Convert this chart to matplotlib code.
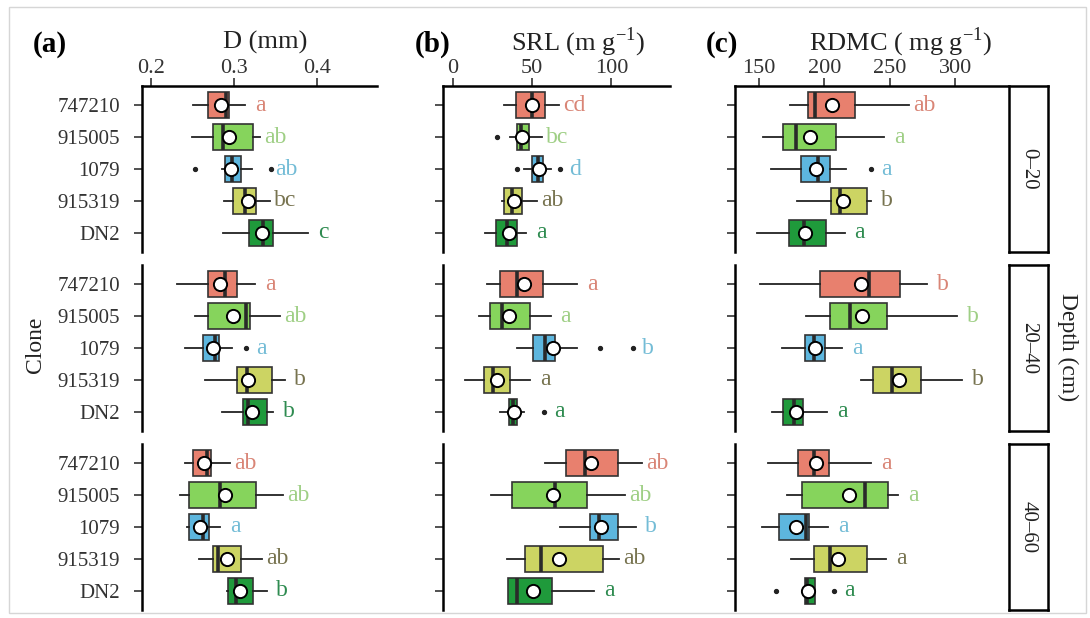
import numpy as np
import matplotlib.pyplot as plt
from matplotlib.patches import Rectangle

plt.rcParams['font.family'] = ['Liberation Serif', 'DejaVu Serif']

clones = ['747210', '915005', '1079', '915319', 'DN2']
depths = ['0\u201320', '20\u201340', '40\u201360']

box_fill = ['#E8806E', '#86D45C', '#5DB6DE', '#CCD463', '#1F9A3B']
letter_col = ['#D98576', '#9FCF85', '#73BCD6', '#77734F', '#2E8B50']

# ---- D (mm) ----
D_lo = [[0.251, 0.249, 0.285, 0.288, 0.287],
        [0.231, 0.253, 0.241, 0.265, 0.285],
        [0.241, 0.235, 0.243, 0.258, 0.291]]
D_q1 = [[0.269, 0.274, 0.289, 0.298, 0.318],
        [0.269, 0.268, 0.263, 0.304, 0.311],
        [0.250, 0.246, 0.245, 0.275, 0.292]]
D_med = [[0.290, 0.287, 0.297, 0.313, 0.335],
         [0.289, 0.314, 0.277, 0.316, 0.317],
         [0.267, 0.283, 0.262, 0.281, 0.302]]
D_q3 = [[0.294, 0.323, 0.308, 0.326, 0.347],
        [0.304, 0.319, 0.282, 0.345, 0.339],
        [0.272, 0.326, 0.270, 0.308, 0.323]]
D_hi = [[0.313, 0.331, 0.321, 0.343, 0.389],
        [0.325, 0.355, 0.297, 0.361, 0.347],
        [0.295, 0.359, 0.283, 0.333, 0.339]]
D_mean = [[0.284, 0.294, 0.296, 0.317, 0.333],
          [0.283, 0.298, 0.275, 0.317, 0.322],
          [0.264, 0.289, 0.259, 0.291, 0.307]]
D_out = [[[], [], [0.253, 0.344], [], []],
         [[], [], [0.314], [], []],
         [[], [], [], [], []]]
D_let = [['a', 'ab', 'ab', 'bc', 'c'],
         ['a', 'ab', 'a', 'b', 'b'],
         ['ab', 'ab', 'a', 'ab', 'b']]

# ---- SRL (m g-1) ----
S_lo = [[32.5, 36.3, 45.1, 31.0, 20.4],
        [21.5, 16.6, 40.5, 7.8, 29.9],
        [57.8, 24.2, 67.5, 34.2, 34.8]]
S_q1 = [[40.0, 40.5, 50.0, 32.5, 27.4],
        [29.9, 23.6, 50.6, 19.8, 35.2],
        [71.1, 37.3, 86.5, 45.3, 35.0]]
S_med = [[50.0, 43.0, 53.5, 37.3, 34.0],
         [40.5, 31.0, 58.4, 25.3, 38.0],
         [83.1, 64.3, 92.2, 55.7, 40.5]]
S_q3 = [[58.4, 47.8, 57.0, 43.7, 40.5],
        [57.0, 48.5, 64.3, 36.3, 40.5],
        [104.2, 84.4, 104.2, 94.9, 62.7]]
S_hi = [[66.8, 56.3, 61.6, 53.2, 46.4],
        [78.5, 61.6, 78.5, 48.9, 44.7],
        [119.6, 108.6, 115.4, 104.8, 89.0]]
S_mean = [[50.0, 43.7, 54.2, 38.4, 35.2],
          [44.7, 35.2, 63.3, 27.8, 38.4],
          [86.9, 63.3, 93.2, 66.8, 50.6]]
S_out = [[[], [27.8], [40.5, 67.5], [], []],
         [[], [], [92.6, 113.7], [], [57.3]],
         [[], [], [], [], []]]
S_let = [['cd', 'bc', 'd', 'ab', 'a'],
         ['a', 'a', 'b', 'a', 'a'],
         ['ab', 'ab', 'b', 'ab', 'a']]

# ---- RDMC (mg g-1) ----
R_lo = [[173.6, 153.3, 159.1, 179.2, 148.2],
        [150.8, 185.8, 168.0, 228.2, 159.7],
        [156.6, 171.1, 152.0, 174.4, 185.0]]
R_q1 = [[187.5, 168.5, 182.0, 205.3, 172.8],
        [196.4, 204.0, 185.0, 237.0, 168.5],
        [179.9, 183.2, 165.2, 191.9, 185.0]]
R_med = [[192.6, 178.2, 195.1, 212.2, 184.2],
         [234.5, 219.3, 191.9, 251.5, 176.6],
         [191.9, 231.2, 186.3, 204.0, 187.0]]
R_q3 = [[223.1, 209.1, 204.0, 232.7, 201.0],
        [258.1, 248.0, 200.2, 273.8, 183.7],
        [203.5, 248.9, 188.0, 232.7, 192.6]]
R_hi = [[264.9, 245.9, 216.7, 235.8, 215.4],
        [278.8, 301.7, 213.7, 305.5, 202.0],
        [235.8, 256.0, 202.7, 247.2, 192.6]]
R_mean = [[206.1, 189.3, 193.9, 214.2, 185.0],
          [228.2, 228.9, 192.6, 257.3, 178.2],
          [193.4, 218.7, 178.7, 210.3, 187.5]]
R_out = [[[], [], [235.8], [], []],
         [[], [], [], [], []],
         [[], [], [], [], [162.7, 207.1]]]
R_let = [['ab', 'a', 'a', 'b', 'a'],
         ['b', 'b', 'a', 'b', 'a'],
         ['a', 'a', 'a', 'a', 'a']]

W, H = 1090, 618
fig = plt.figure(figsize=(W / 100, H / 100), dpi=100)

# light frame round the figure
fig.add_artist(Rectangle((9 / W, 5 / H), 1077 / W, 606 / H, transform=fig.transFigure,
                         fill=False, edgecolor='#d6d6d6', lw=1))

rows_px = [(86, 252), (265, 431), (444, 610)]


def px_axes(x0, x1, y0, y1):
    return fig.add_axes([x0 / W, 1 - y1 / H, (x1 - x0) / W, (y1 - y0) / H])


def draw_column(x0, x1, xlim, xticks, xticklabels, lo, q1, med, q3, hi, mean, out, let,
                ylabels):
    for d in range(3):
        ax = px_axes(x0, x1, *rows_px[d])
        stats = []
        for i in range(5):
            stats.append(dict(whislo=lo[d][i], q1=q1[d][i], med=med[d][i], q3=q3[d][i],
                              whishi=hi[d][i], mean=mean[d][i], fliers=out[d][i]))
        bp = ax.bxp(stats, positions=range(5), widths=0.8, orientation='horizontal',
                    patch_artist=True, showmeans=True, showcaps=False,
                    boxprops=dict(edgecolor='#333333', linewidth=1.2),
                    whiskerprops=dict(color='#222222', linewidth=1.3),
                    medianprops=dict(color='#2a2a2a', linewidth=2.6),
                    meanprops=dict(marker='o', markerfacecolor='white',
                                   markeredgecolor='black', markersize=9.5,
                                   markeredgewidth=1.4),
                    flierprops=dict(marker='o', markerfacecolor='#222222',
                                    markeredgecolor='#222222', markersize=2.8))
        for patch, c in zip(bp['boxes'], box_fill):
            patch.set_facecolor(c)
        for i in range(5):
            xmax = max([hi[d][i]] + list(out[d][i]))
            ax.annotate(let[d][i], xy=(xmax, i), xytext=(11, 0), textcoords='offset points',
                        ha='center', va='center', fontsize=17, color=letter_col[i])
        ax.set_xlim(*xlim)
        ax.set_ylim(4.6, -0.6)
        ax.set_yticks(range(5))
        if ylabels:
            ax.set_yticklabels(clones, fontsize=15, color='#333333')
        else:
            ax.set_yticklabels([])
        for s in ['right', 'bottom']:
            ax.spines[s].set_visible(False)
        ax.spines['left'].set_linewidth(1.8)
        ax.spines['top'].set_linewidth(1.8)
        if d == 0:
            ax.xaxis.tick_top()
            ax.set_xticks(xticks)
            ax.set_xticklabels(xticklabels, fontsize=16, color='#333333')
        else:
            ax.spines['top'].set_visible(False)
            ax.set_xticks([])
        ax.tick_params(axis='x', length=6, width=1.2, color='#333333', pad=0)
        ax.tick_params(axis='y', length=6, width=1.2, color='#333333', pad=10)
        ax.set_facecolor('none')


draw_column(142, 377, (0.189, 0.472), [0.2, 0.3, 0.4], ['0.2', '0.3', '0.4'],
            D_lo, D_q1, D_med, D_q3, D_hi, D_mean, D_out, D_let, True)
draw_column(443, 670, (-6.3, 137), [0, 50, 100], ['0', '50', '100'],
            S_lo, S_q1, S_med, S_q3, S_hi, S_mean, S_out, S_let, False)
draw_column(735, 1007, (131.7, 339.6), [150, 200, 250, 300], ['150', '200', '250', '300'],
            R_lo, R_q1, R_med, R_q3, R_hi, R_mean, R_out, R_let, False)

# depth strips on the right
for d in range(3):
    sx = px_axes(1009, 1048, *rows_px[d])
    sx.set_xticks([])
    sx.set_yticks([])
    for s in sx.spines.values():
        s.set_linewidth(1.8)
    sx.text(0.5, 0.5, depths[d], rotation=-90, ha='center', va='center', fontsize=15,
            color='#222222', transform=sx.transAxes)

# panel tags and axis titles
def fx(px):
    return px / W


def fy(py):
    return 1 - py / H


for tag, xp in [('(a)', 50), ('(b)', 433), ('(c)', 722)]:
    fig.text(fx(xp), fy(44), tag, fontsize=21, fontweight='bold', ha='center', va='center')
fig.text(fx(265), fy(42), 'D (mm)', fontsize=19, ha='center', va='center', color='#222222')
fig.text(fx(578), fy(42), 'SRL (m g$^{\\mathregular{-1}}$)', fontsize=19, ha='center',
         va='center', color='#222222')
fig.text(fx(901), fy(42), 'RDMC ( mg g$^{\\mathregular{-1}}$)', fontsize=19, ha='center',
         va='center', color='#222222')
fig.text(fx(35), fy(345), 'Clone', fontsize=17, rotation=90, ha='center', va='center',
         color='#222222')
fig.text(fx(1068), fy(347), 'Depth (cm)', fontsize=17, rotation=-90, ha='center',
         va='center', color='#222222')

fig.savefig('out.png', dpi=100)
